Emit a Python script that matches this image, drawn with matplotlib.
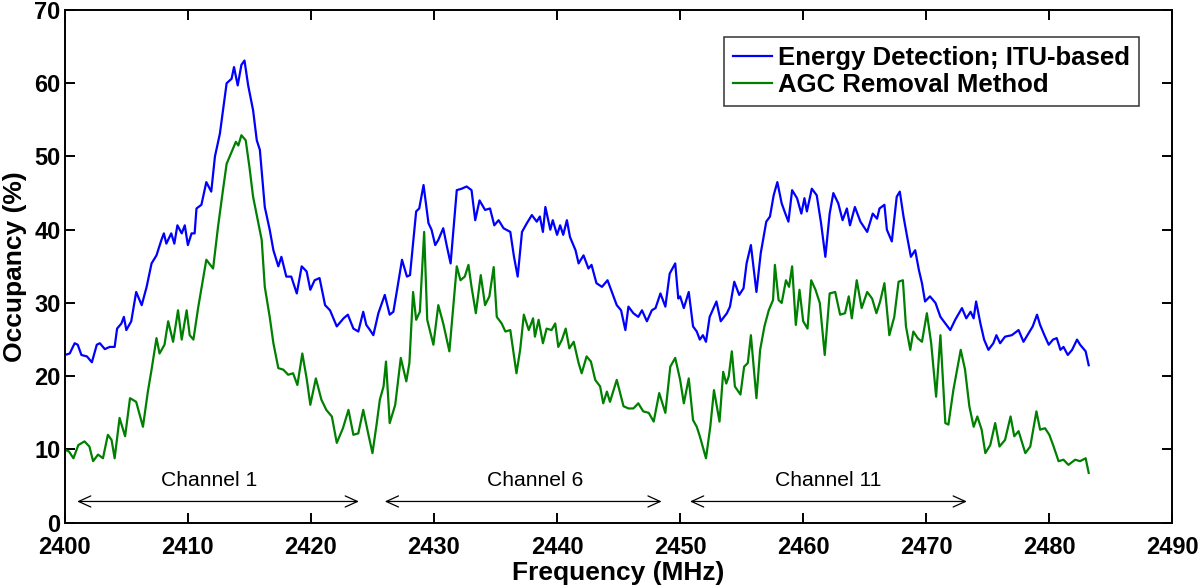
import matplotlib.pyplot as plt

plt.rcParams['font.family'] = ['Liberation Sans', 'DejaVu Sans']

# Energy detection (ITU-based) occupancy
blue_freq = [2400.0, 2400.4, 2400.8, 2401.05, 2401.35, 2401.8, 2402.2, 2402.6, 2402.85, 2403.25,
             2403.65, 2404.05, 2404.25, 2404.6, 2404.8, 2405.0, 2405.4, 2405.8, 2406.25, 2406.65,
             2407.05, 2407.45, 2407.85, 2408.05, 2408.25, 2408.65, 2408.9, 2409.15, 2409.5, 2409.75,
             2410.0, 2410.3, 2410.55, 2410.7, 2411.1, 2411.5, 2411.9, 2412.2, 2412.6, 2413.15,
             2413.55, 2413.75, 2414.05, 2414.35, 2414.6, 2414.9, 2415.3, 2415.6, 2415.85, 2416.25,
             2416.65, 2416.95, 2417.35, 2417.6, 2418.0, 2418.4, 2418.85, 2419.25, 2419.65, 2419.95,
             2420.3, 2420.7, 2421.15, 2421.55, 2422.1, 2422.65, 2423.0, 2423.45, 2423.85, 2424.25,
             2424.5, 2424.8, 2425.07, 2425.48, 2426.0, 2426.4, 2426.7, 2427.0, 2427.4, 2427.8,
             2428.05, 2428.55, 2428.8, 2429.15, 2429.55, 2429.8, 2430.1, 2430.35, 2430.75, 2431.05,
             2431.35, 2431.85, 2432.25, 2432.65, 2433.05, 2433.35, 2433.7, 2434.15, 2434.55, 2434.9,
             2435.25, 2435.65, 2436.2, 2436.5, 2436.8, 2437.15, 2437.55, 2437.95, 2438.35, 2438.6,
             2438.85, 2439.05, 2439.45, 2439.65, 2440.0, 2440.25, 2440.5, 2440.8, 2441.05, 2441.5,
             2441.75, 2442.15, 2442.55, 2442.8, 2443.2, 2443.65, 2444.1, 2444.45, 2444.85, 2445.2,
             2445.55, 2445.8, 2446.2, 2446.6, 2446.9, 2447.3, 2447.7, 2448.0, 2448.4, 2448.8,
             2449.15, 2449.6, 2449.85, 2450.0, 2450.3, 2450.7, 2451.05, 2451.35, 2451.6, 2451.85,
             2452.1, 2452.4, 2452.95, 2453.3, 2453.8, 2454.05, 2454.4, 2454.8, 2455.15, 2455.4,
             2455.75, 2456.2, 2456.55, 2457.0, 2457.3, 2457.6, 2457.9, 2458.25, 2458.55, 2458.8,
             2459.1, 2459.5, 2459.85, 2460.1, 2460.3, 2460.7, 2461.1, 2461.45, 2461.8, 2462.15,
             2462.45, 2462.85, 2463.2, 2463.55, 2463.8, 2464.2, 2464.65, 2465.2, 2465.65, 2466.0,
             2466.2, 2466.6, 2466.8, 2467.2, 2467.6, 2467.85, 2468.15, 2468.45, 2468.75, 2469.1,
             2469.4, 2469.65, 2469.9, 2470.3, 2470.75, 2471.15, 2471.55, 2471.95, 2472.35, 2472.9,
             2473.25, 2473.6, 2473.85, 2474.05, 2474.4, 2474.7, 2475.05, 2475.45, 2475.7, 2476.0,
             2476.4, 2476.95, 2477.5, 2477.9, 2478.4, 2478.65, 2479.0, 2479.25, 2479.6, 2479.95,
             2480.3, 2480.6, 2480.9, 2481.15, 2481.5, 2481.85, 2482.25, 2482.5, 2482.95, 2483.2]
blue_occ = [22.9, 23.1, 24.5, 24.3, 22.9, 22.7, 21.9, 24.3, 24.5, 23.7,
            24.0, 24.0, 26.5, 27.2, 28.1, 26.3, 27.5, 31.5, 29.7, 32.2,
            35.4, 36.5, 38.6, 39.5, 38.1, 39.5, 38.1, 40.6, 39.5, 40.6,
            37.9, 39.5, 39.5, 42.9, 43.4, 46.5, 45.2, 50.0, 53.1, 60.0,
            60.6, 62.2, 59.7, 62.5, 63.1, 59.7, 56.3, 52.2, 50.9, 43.1,
            40.0, 37.2, 35.0, 36.3, 33.6, 33.6, 31.3, 35.0, 34.3, 31.8,
            33.1, 33.4, 29.7, 29.0, 26.8, 27.9, 28.4, 26.5, 26.1, 28.8,
            27.0, 26.3, 25.6, 28.6, 31.1, 28.4, 28.8, 31.8, 35.9, 33.6,
            33.8, 42.5, 42.9, 46.1, 40.9, 40.0, 37.9, 38.6, 40.2, 37.7,
            35.4, 45.4, 45.6, 45.9, 45.4, 41.3, 44.0, 42.7, 42.9, 40.6,
            41.3, 40.2, 39.7, 36.3, 33.6, 39.7, 40.9, 42.0, 41.1, 41.8,
            39.7, 43.1, 40.0, 41.3, 39.3, 40.6, 39.3, 41.3, 39.0, 37.2,
            35.4, 36.5, 34.7, 35.2, 32.7, 32.2, 33.1, 31.5, 29.7, 29.0,
            26.3, 29.5, 28.6, 28.1, 29.0, 27.5, 29.0, 29.3, 31.3, 29.5,
            34.0, 35.4, 30.6, 30.9, 29.3, 31.5, 26.8, 26.1, 25.0, 25.6,
            24.7, 28.1, 30.2, 27.5, 28.6, 29.5, 32.9, 31.1, 32.0, 35.4,
            37.9, 31.5, 36.8, 41.1, 41.8, 44.7, 46.5, 43.6, 42.2, 41.1,
            45.4, 44.3, 42.2, 44.3, 42.5, 45.6, 44.7, 40.9, 36.3, 42.2,
            45.0, 43.6, 41.3, 42.9, 40.6, 43.1, 41.1, 39.7, 42.2, 41.5,
            42.9, 43.4, 40.0, 38.4, 44.5, 45.2, 41.8, 39.0, 36.3, 37.2,
            34.5, 32.7, 30.2, 30.9, 30.0, 28.1, 27.2, 26.3, 27.7, 29.3,
            27.9, 28.8, 27.9, 30.2, 27.2, 25.0, 23.6, 24.5, 25.6, 24.5,
            25.4, 25.6, 26.3, 24.7, 26.1, 26.8, 28.4, 27.0, 25.6, 24.3,
            25.0, 25.2, 23.6, 24.0, 22.9, 23.6, 25.0, 24.3, 23.4, 21.5]

# AGC removal method occupancy
green_freq = [2400.0, 2400.35, 2400.7, 2401.1, 2401.6, 2402.0, 2402.3, 2402.7, 2403.1, 2403.5,
              2403.8, 2404.05, 2404.45, 2404.9, 2405.3, 2405.8, 2406.35, 2406.75, 2407.05, 2407.45,
              2407.7, 2408.1, 2408.4, 2408.8, 2409.2, 2409.5, 2409.9, 2410.15, 2410.45, 2410.85,
              2411.5, 2412.05, 2412.45, 2412.85, 2413.15, 2413.55, 2413.9, 2414.1, 2414.35, 2414.7,
              2415.0, 2415.3, 2415.7, 2416.0, 2416.25, 2416.65, 2416.95, 2417.35, 2417.75, 2418.15,
              2418.55, 2418.9, 2419.3, 2419.65, 2419.95, 2420.4, 2420.85, 2421.25, 2421.7, 2422.1,
              2422.6, 2423.05, 2423.45, 2423.85, 2424.25, 2424.65, 2425.0, 2425.35, 2425.6, 2425.9,
              2426.1, 2426.4, 2426.85, 2427.3, 2427.75, 2428.0, 2428.3, 2428.55, 2428.85, 2429.2,
              2429.45, 2429.95, 2430.35, 2430.75, 2431.25, 2431.85, 2432.15, 2432.5, 2432.8, 2433.05,
              2433.4, 2433.8, 2434.15, 2434.5, 2434.85, 2435.1, 2435.5, 2435.8, 2436.2, 2436.7,
              2437.0, 2437.3, 2437.7, 2438.05, 2438.2, 2438.5, 2438.85, 2439.15, 2439.55, 2439.85,
              2440.1, 2440.4, 2440.7, 2441.0, 2441.35, 2441.75, 2442.0, 2442.4, 2442.75, 2443.1,
              2443.5, 2443.75, 2444.05, 2444.3, 2444.85, 2445.4, 2445.8, 2446.2, 2446.6, 2447.0,
              2447.45, 2447.85, 2448.3, 2448.8, 2449.2, 2449.6, 2450.0, 2450.3, 2450.7, 2451.05,
              2451.35, 2451.6, 2452.1, 2452.45, 2452.75, 2453.2, 2453.5, 2453.75, 2453.95, 2454.2,
              2454.45, 2454.9, 2455.2, 2455.5, 2455.75, 2456.2, 2456.5, 2456.85, 2457.2, 2457.55,
              2457.7, 2458.0, 2458.25, 2458.6, 2458.85, 2459.1, 2459.4, 2459.7, 2460.0, 2460.35,
              2460.65, 2461.0, 2461.35, 2461.75, 2462.15, 2462.6, 2463.0, 2463.4, 2463.7, 2463.95,
              2464.35, 2464.75, 2465.2, 2465.6, 2465.95, 2466.25, 2466.6, 2467.0, 2467.4, 2467.75,
              2468.1, 2468.35, 2468.7, 2468.95, 2469.3, 2469.65, 2470.05, 2470.4, 2470.8, 2471.15,
              2471.55, 2471.8, 2472.2, 2472.8, 2473.15, 2473.5, 2473.85, 2474.15, 2474.5, 2474.8,
              2475.2, 2475.6, 2475.95, 2476.4, 2476.85, 2477.15, 2477.5, 2478.05, 2478.45, 2478.95,
              2479.25, 2479.65, 2480.0, 2480.35, 2480.75, 2481.15, 2481.55, 2482.1, 2482.5, 2482.95,
              2483.2]
green_occ = [10.0, 9.7, 8.8, 10.6, 11.1, 10.4, 8.4, 9.3, 8.8, 12.0,
             11.3, 8.8, 14.3, 11.8, 17.0, 16.5, 13.1, 17.9, 20.9, 25.2,
             23.1, 24.3, 27.5, 24.7, 29.0, 25.0, 29.0, 25.6, 25.0, 29.5,
             35.9, 34.7, 40.4, 45.4, 49.0, 50.6, 52.0, 51.5, 52.9, 52.2,
             48.6, 44.5, 41.1, 38.6, 32.2, 28.1, 24.5, 21.1, 20.9, 20.2,
             20.4, 18.8, 23.1, 19.7, 16.1, 19.7, 16.8, 15.4, 14.5, 10.9,
             12.9, 15.4, 12.0, 12.2, 15.4, 12.2, 9.5, 13.6, 16.8, 18.6,
             22.0, 13.6, 16.1, 22.5, 19.3, 21.8, 31.5, 27.7, 28.8, 39.7,
             27.7, 24.3, 29.7, 27.2, 23.4, 35.0, 33.1, 33.6, 35.2, 32.2,
             28.6, 33.8, 29.7, 30.9, 34.9, 28.1, 27.2, 26.1, 26.3, 20.4,
             23.6, 28.4, 26.3, 27.9, 25.4, 27.7, 24.5, 26.5, 26.3, 27.2,
             24.0, 25.0, 26.5, 23.8, 24.7, 21.8, 20.4, 22.7, 22.0, 19.5,
             18.6, 16.3, 17.9, 16.5, 19.5, 15.9, 15.6, 15.6, 16.3, 15.2,
             15.0, 13.8, 17.7, 15.0, 21.3, 22.5, 19.5, 16.3, 19.7, 14.0,
             13.1, 11.8, 8.8, 13.1, 18.1, 13.8, 20.6, 19.0, 20.0, 23.4,
             18.6, 17.5, 21.3, 21.8, 25.6, 17.0, 23.6, 26.8, 29.0, 30.4,
             35.2, 30.4, 30.0, 33.1, 32.2, 35.0, 27.0, 31.8, 27.5, 26.5,
             33.1, 31.8, 30.0, 22.9, 31.3, 31.5, 28.4, 28.6, 30.9, 27.9,
             33.1, 29.3, 31.5, 30.6, 28.6, 30.2, 32.7, 25.6, 28.1, 32.9,
             33.1, 26.8, 23.6, 26.1, 25.2, 24.7, 28.6, 24.5, 17.2, 25.6,
             13.6, 13.4, 18.1, 23.6, 20.9, 15.9, 13.1, 14.5, 12.7, 9.5,
             10.6, 13.6, 10.4, 11.3, 14.5, 11.8, 12.5, 9.5, 10.4, 15.2,
             12.7, 12.9, 12.0, 10.4, 8.4, 8.6, 7.9, 8.6, 8.4, 8.8,
             6.8]

# WiFi channel spans and labels
channel_names = ['Channel 1', 'Channel 6', 'Channel 11']
channel_start = [2401.0, 2426.0, 2450.8]
channel_end = [2423.9, 2448.5, 2473.3]
channel_label_at = [2411.7, 2438.2, 2462.0]

fig = plt.figure(figsize=(12, 5.86), dpi=100)
ax = fig.add_axes([0.054, 0.108, 0.923, 0.875])

ax.plot(blue_freq, blue_occ, color='#0000ff', linewidth=1.6, label='Energy Detection; ITU-based')
ax.plot(green_freq, green_occ, color='#008000', linewidth=1.6, label='AGC Removal Method')

# channel arrows with open heads
for name, lo, hi, xt in zip(channel_names, channel_start, channel_end, channel_label_at):
    ax.annotate('', xy=(lo, 2.9), xytext=(hi, 2.9),
                arrowprops=dict(arrowstyle='<->, head_length=0.55, head_width=0.25',
                                color='black', lw=0.9, mutation_scale=16,
                                shrinkA=0, shrinkB=0))
    ax.text(xt, 5.7, name, ha='center', va='center', fontsize=15.2)

ax.set_xlim(2400, 2490)
ax.set_ylim(0, 70)
ax.set_xticks(range(2400, 2491, 10))
ax.set_yticks(range(0, 71, 10))
ax.tick_params(direction='in', length=7, width=1.4, top=True, right=True, labelsize=17)
ax.tick_params(axis='x', pad=9.5)
ax.tick_params(axis='y', pad=3)
for lbl in ax.get_xticklabels() + ax.get_yticklabels():
    lbl.set_fontweight('bold')
for sp in ax.spines.values():
    sp.set_linewidth(1.4)

ax.set_xlabel('Frequency (MHz)', fontsize=19, fontweight='bold', labelpad=1.5)
ax.set_ylabel('Occupancy (%)', fontsize=19, fontweight='bold', labelpad=5)

leg = ax.legend(loc='upper right', bbox_to_anchor=(0.970, 0.947),
                prop={'weight': 'bold', 'size': 18.5}, frameon=True, fancybox=False,
                handlelength=1.5, handletextpad=0.25, borderpad=0.35, labelspacing=0.1,
                borderaxespad=0)
leg.get_frame().set_edgecolor('black')
leg.get_frame().set_linewidth(1.1)

plt.savefig('out.png', dpi=100)
